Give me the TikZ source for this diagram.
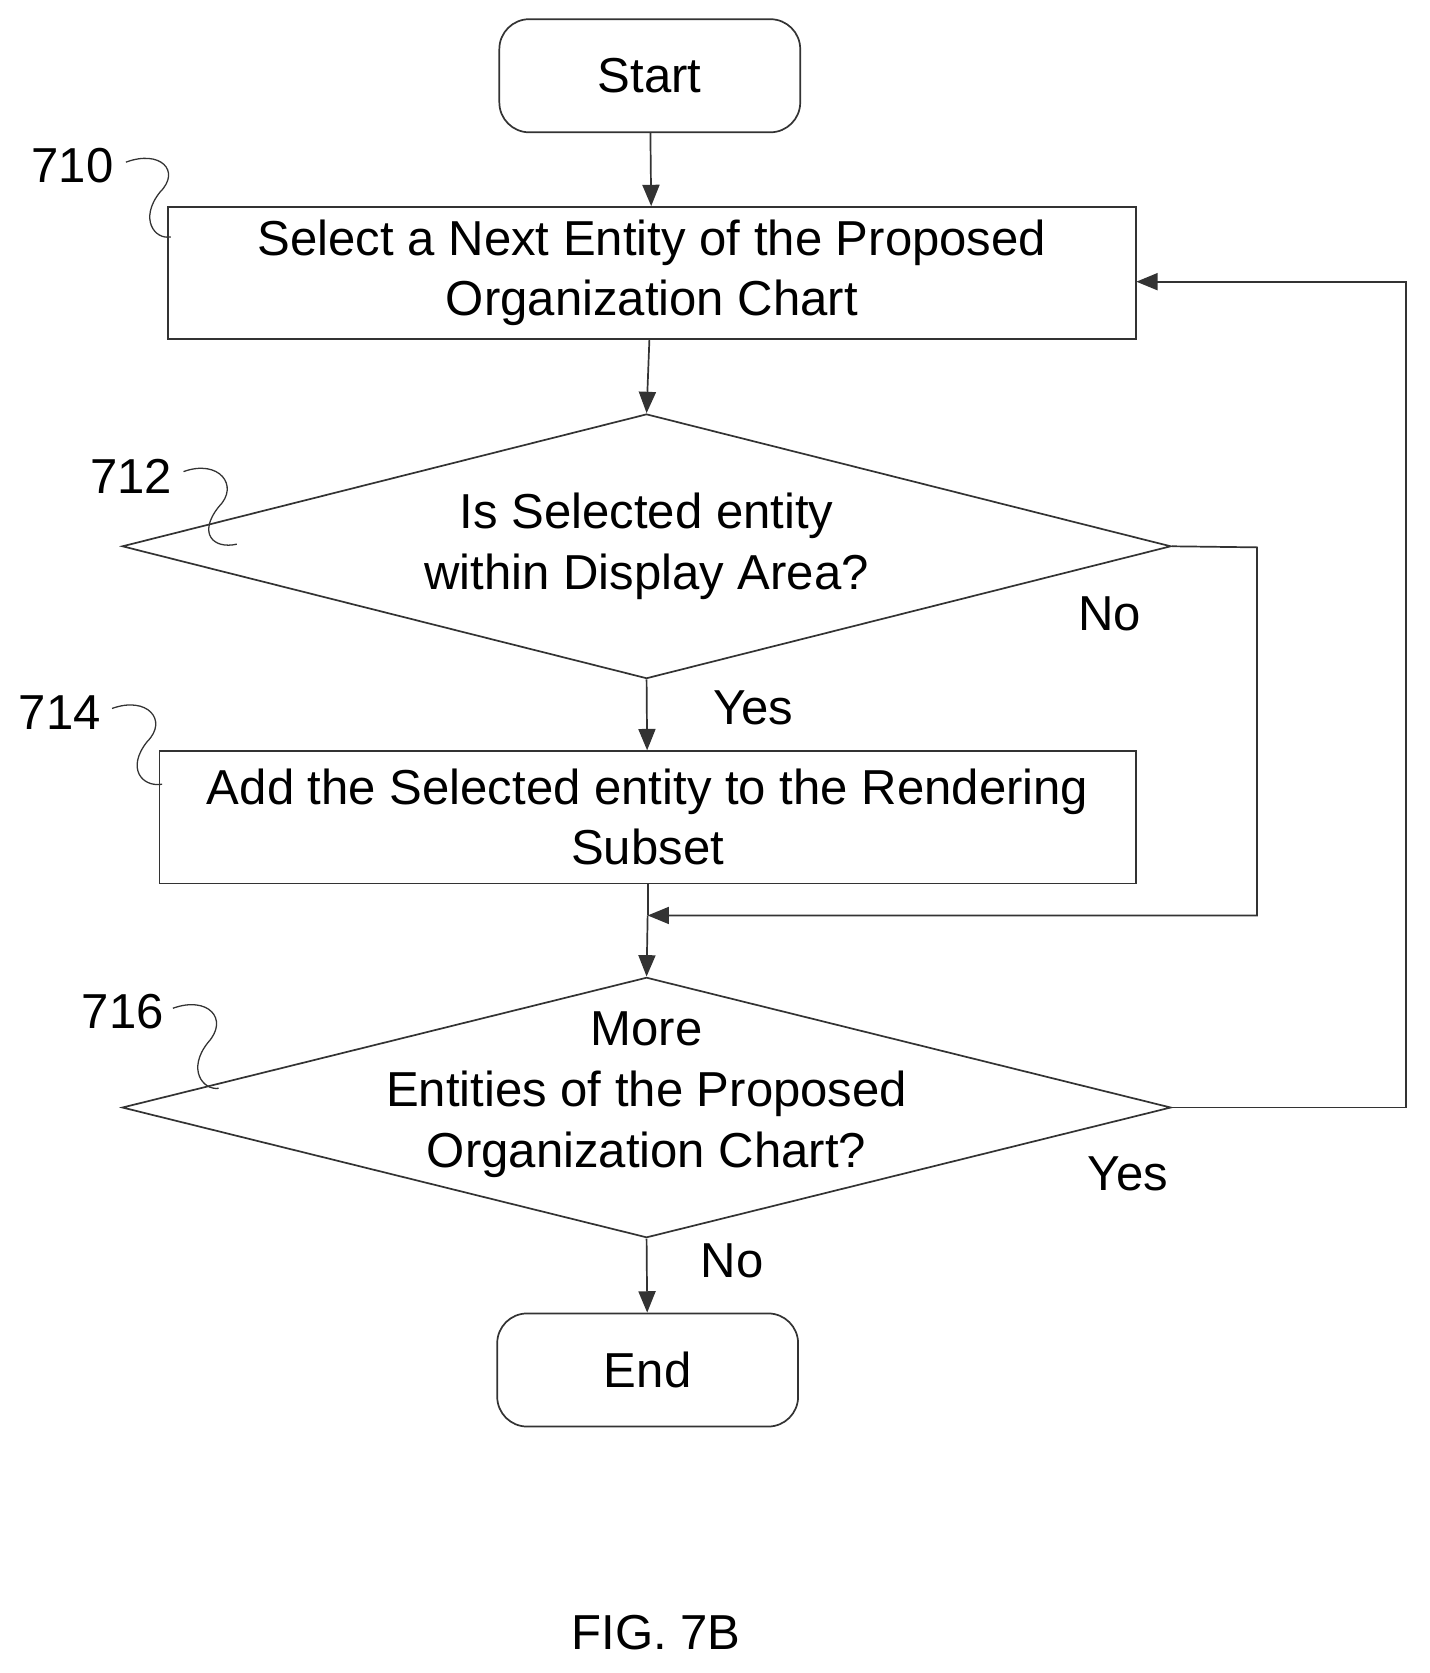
\documentclass[tikz,border=0pt]{standalone}
\usepackage{fontspec}
\setmainfont{Liberation Sans}
\usetikzlibrary{shapes.geometric,arrows.meta}
\begin{document}
\begin{tikzpicture}[x=1pt,y=-1pt,
  ln/.style={line width=1.6pt,draw=black!80},
  arr/.style={ln,-{Triangle[width=16pt,length=20pt]}},
  term/.style={ln,rounded corners=28pt,minimum width=282pt,minimum height=106pt,font=\fontsize{46}{52}\selectfont},
  box/.style={ln,minimum height=124pt,align=center,font=\fontsize{46}{56}\selectfont},
  dia/.style={ln,diamond,aspect=3.95,inner sep=0pt},
  txt/.style={align=center,font=\fontsize{46}{57}\selectfont},
  lab/.style={font=\fontsize{46}{52}\selectfont},
  sq/.style={line width=1.2pt,draw=black!80}]
\useasboundingbox (0,0) rectangle (1340,1568);
\node[term] (start) at (609,71) {Start};
\node[box,minimum width=907pt] (b710) at (611,256) {Select a Next Entity of the Proposed\\Organization Chart};
\node[dia,minimum width=983pt,minimum height=248pt] (d712) at (606,512) {};
\node[txt] (t712) at (606,512) {Is Selected entity\\within Display Area?};
\node[box,minimum width=915pt] (b714) at (607,766) {Add the Selected entity to the Rendering\\Subset};
\coordinate (m) at (607,858);
\node[dia,minimum width=983pt,minimum height=244pt] (d716) at (606,1038) {};
\node[txt] (t716) at (606,1026) {More\\Entities of the Proposed\\Organization Chart?};
\node[term] (end) at (607,1284) {End};
\coordinate (c1) at (1178,513);
\coordinate (c2) at (1178,858);
\coordinate (c3) at (1318,1038);
\coordinate (c4) at (1318,264);
\coordinate (c5) at (1065,264);
\draw[arr] (start) -- (b710);
\draw[arr] (b710) -- (d712.north);
\draw[arr] (d712.south) -- (b714);
\draw[ln] (b714) -- (m);
\draw[arr] (m) -- (d716.north);
\draw[arr] (d716.south) -- (end);
\draw[arr] (d712.east) -- (c1) -- (c2) -- (m);
\draw[arr] (d716.east) -- (c3) -- (c4) -- (c5);
\node[lab] (no1) at (1040,575) {No};
\node[lab] (yes1) at (706,663) {Yes};
\node[lab] (yes2) at (1057,1100) {Yes};
\node[lab] (no2) at (686,1182) {No};
\node[lab] (r710) at (68,155) {710};
\node[lab] (r712) at (123,446) {712};
\node[lab] (r714) at (56,668) {714};
\node[lab] (r716) at (115,948) {716};
\draw[sq] (118,152) .. controls (150,140) and (170,160) .. (150,180) .. controls (130,205) and (145,225) .. (160,222);
\draw[sq] (172,442) .. controls (205,430) and (225,455) .. (205,475) .. controls (185,500) and (200,515) .. (222,510);
\draw[sq] (105,664) .. controls (138,652) and (158,675) .. (138,695) .. controls (118,720) and (133,738) .. (152,735);
\draw[sq] (162,945) .. controls (195,933) and (215,955) .. (195,977) .. controls (175,1002) and (190,1022) .. (205,1020);
\node[lab] (fig) at (615,1530) {FIG. 7B};
\end{tikzpicture}
\end{document}
